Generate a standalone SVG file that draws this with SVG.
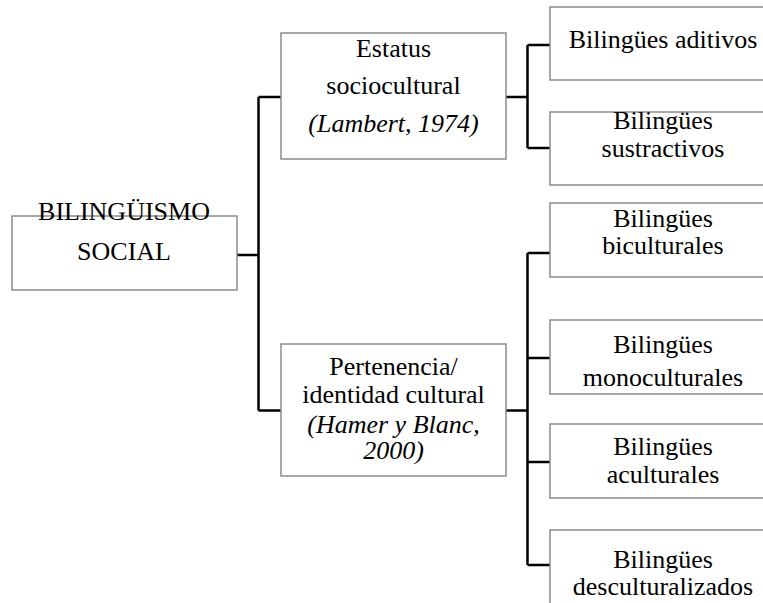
<svg xmlns="http://www.w3.org/2000/svg" width="763" height="603" viewBox="0 0 763 603">
<style>
.box{fill:#fff;stroke:#8c8c8c;stroke-width:1.5}
.t{font-family:'Liberation Serif','Times New Roman','DejaVu Serif',serif;font-size:26px;fill:#000;text-anchor:middle}
.i{font-style:italic}
.c{fill:none;stroke:#000;stroke-width:2.5}
</style>
<rect width="763" height="603" fill="#fff"/>
<g id="connectors">
<path class="c" d="M237,255H258.5M258.5,97V410.5M258.5,97H281M258.5,410.5H281"/>
<path class="c" d="M506,97H527.5M527.5,45V148M527.5,45H550M527.5,148H550"/>
<path class="c" d="M506,410.5H527.5M527.5,253V565M527.5,253H550M527.5,358H550M527.5,462H550M527.5,565H550"/>
</g>
<g font-family="Liberation Serif, Times New Roman, serif">
<g id="root">
<rect class="box" x="12" y="216" width="225" height="74"/>
<text class="t" x="124" y="220">BILINGÜISMO</text>
<text class="t" x="124" y="260">SOCIAL</text>
</g>
<g id="estatus">
<rect class="box" x="281" y="33" width="225" height="126"/>
<text class="t" x="393.5" y="57">Estatus</text>
<text class="t" x="393.5" y="94">sociocultural</text>
<text class="t i" x="393.5" y="132">(Lambert, 1974)</text>
</g>
<g id="pertenencia">
<rect class="box" x="281" y="344" width="225" height="132"/>
<text class="t" x="393.5" y="375">Pertenencia/</text>
<text class="t" x="393.5" y="403">identidad cultural</text>
<text class="t i" x="393.5" y="433">(Hamer y Blanc,</text>
<text class="t i" x="393.5" y="459">2000)</text>
</g>
<g id="aditivos">
<rect class="box" x="550" y="7" width="230" height="73"/>
<text class="t" x="663" y="48">Bilingües aditivos</text>
</g>
<g id="sustractivos">
<rect class="box" x="550" y="112" width="230" height="73"/>
<text class="t" x="663" y="129">Bilingües</text>
<text class="t" x="663" y="157">sustractivos</text>
</g>
<g id="biculturales">
<rect class="box" x="550" y="203" width="230" height="74"/>
<text class="t" x="663" y="227">Bilingües</text>
<text class="t" x="663" y="254">biculturales</text>
</g>
<g id="monoculturales">
<rect class="box" x="550" y="320" width="230" height="74"/>
<text class="t" x="663" y="353">Bilingües</text>
<text class="t" x="663" y="386">monoculturales</text>
</g>
<g id="aculturales">
<rect class="box" x="550" y="424" width="230" height="74"/>
<text class="t" x="663" y="455">Bilingües</text>
<text class="t" x="663" y="483">aculturales</text>
</g>
<g id="desculturalizados">
<rect class="box" x="550" y="530" width="230" height="80"/>
<text class="t" x="663" y="568">Bilingües</text>
<text class="t" x="663" y="595">desculturalizados</text>
</g>
</g>
</svg>
